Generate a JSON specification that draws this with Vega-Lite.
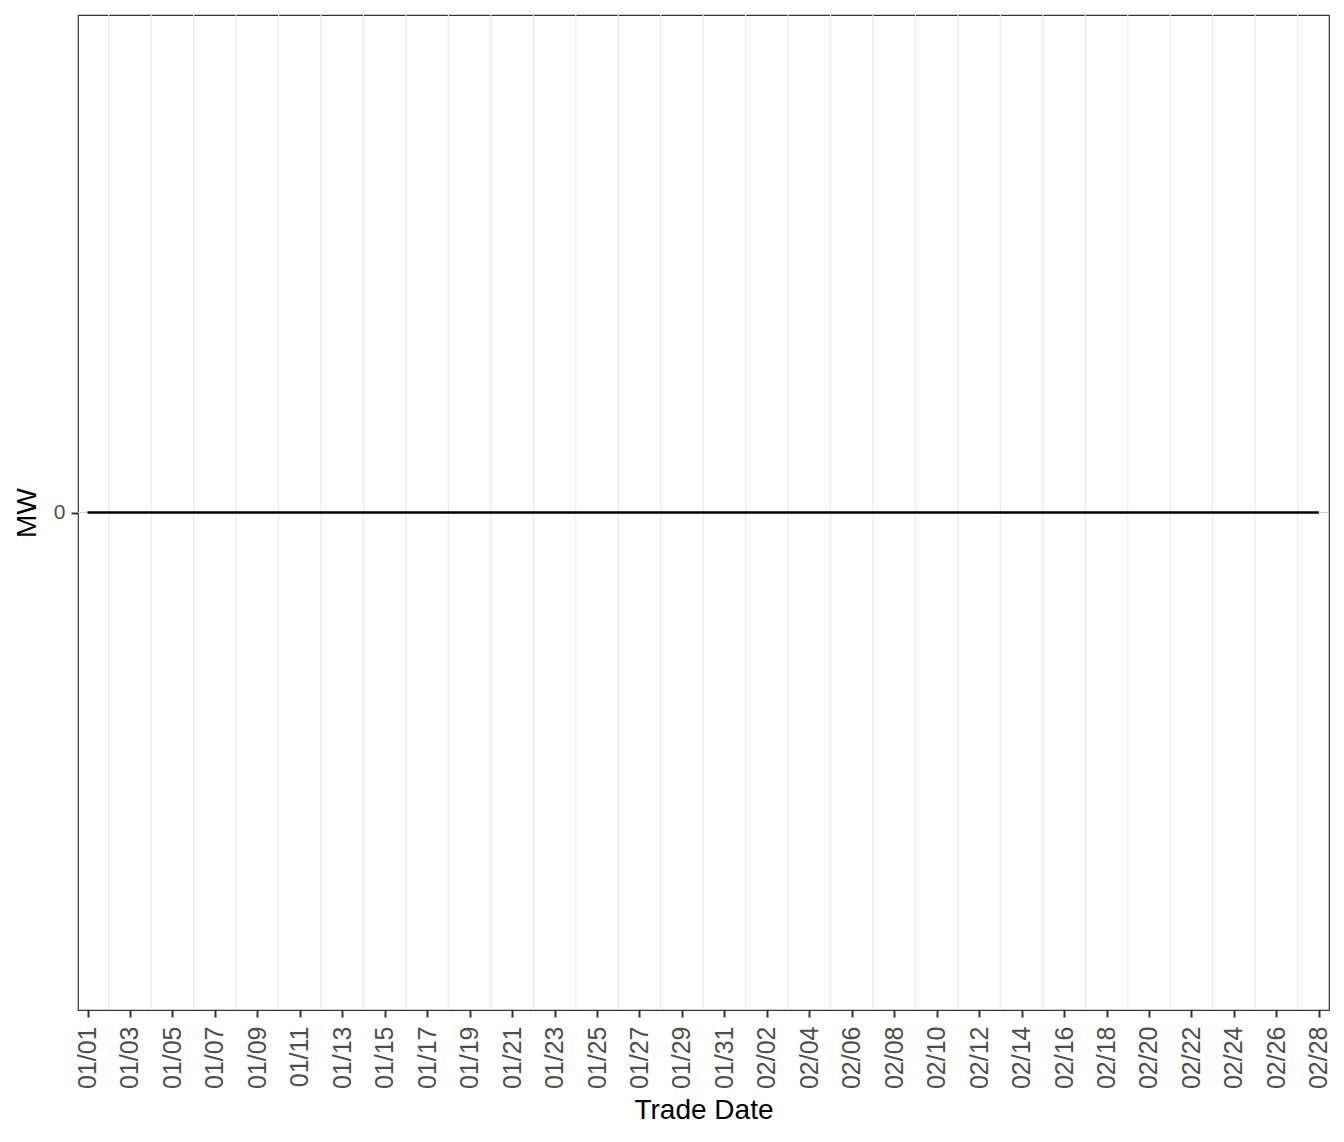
{
  "$schema": "https://vega.github.io/schema/vega-lite/v6.json",
  "width": 1251,
  "height": 995,
  "autosize": "none",
  "padding": {"left": 78, "top": 15, "right": 15, "bottom": 132},
  "background": "white",
  "config": {
    "font": "Liberation Sans",
    "view": {"stroke": "#333333", "strokeWidth": 1.2},
    "axis": {
      "domain": false,
      "grid": false,
      "tickColor": "#333333",
      "tickWidth": 2,
      "tickSize": 7,
      "labelColor": "#4D4D4D",
      "titleColor": "#000000",
      "titleFontWeight": "normal",
      "titleFontSize": 28
    }
  },
  "datasets": {
    "gridDays": [
      {"date": "2023-01-02"}, {"date": "2023-01-04"}, {"date": "2023-01-06"}, {"date": "2023-01-08"},
      {"date": "2023-01-10"}, {"date": "2023-01-12"}, {"date": "2023-01-14"}, {"date": "2023-01-16"},
      {"date": "2023-01-18"}, {"date": "2023-01-20"}, {"date": "2023-01-22"}, {"date": "2023-01-24"},
      {"date": "2023-01-26"}, {"date": "2023-01-28"}, {"date": "2023-01-30"}, {"date": "2023-02-01"},
      {"date": "2023-02-03"}, {"date": "2023-02-05"}, {"date": "2023-02-07"}, {"date": "2023-02-09"},
      {"date": "2023-02-11"}, {"date": "2023-02-13"}, {"date": "2023-02-15"}, {"date": "2023-02-17"},
      {"date": "2023-02-19"}, {"date": "2023-02-21"}, {"date": "2023-02-23"}, {"date": "2023-02-25"},
      {"date": "2023-02-27"}
    ],
    "daily": [
      {"date": "2023-01-01", "MW": 0}, {"date": "2023-01-02", "MW": 0}, {"date": "2023-01-03", "MW": 0},
      {"date": "2023-01-04", "MW": 0}, {"date": "2023-01-05", "MW": 0}, {"date": "2023-01-06", "MW": 0},
      {"date": "2023-01-07", "MW": 0}, {"date": "2023-01-08", "MW": 0}, {"date": "2023-01-09", "MW": 0},
      {"date": "2023-01-10", "MW": 0}, {"date": "2023-01-11", "MW": 0}, {"date": "2023-01-12", "MW": 0},
      {"date": "2023-01-13", "MW": 0}, {"date": "2023-01-14", "MW": 0}, {"date": "2023-01-15", "MW": 0},
      {"date": "2023-01-16", "MW": 0}, {"date": "2023-01-17", "MW": 0}, {"date": "2023-01-18", "MW": 0},
      {"date": "2023-01-19", "MW": 0}, {"date": "2023-01-20", "MW": 0}, {"date": "2023-01-21", "MW": 0},
      {"date": "2023-01-22", "MW": 0}, {"date": "2023-01-23", "MW": 0}, {"date": "2023-01-24", "MW": 0},
      {"date": "2023-01-25", "MW": 0}, {"date": "2023-01-26", "MW": 0}, {"date": "2023-01-27", "MW": 0},
      {"date": "2023-01-28", "MW": 0}, {"date": "2023-01-29", "MW": 0}, {"date": "2023-01-30", "MW": 0},
      {"date": "2023-01-31", "MW": 0}, {"date": "2023-02-01", "MW": 0}, {"date": "2023-02-02", "MW": 0},
      {"date": "2023-02-03", "MW": 0}, {"date": "2023-02-04", "MW": 0}, {"date": "2023-02-05", "MW": 0},
      {"date": "2023-02-06", "MW": 0}, {"date": "2023-02-07", "MW": 0}, {"date": "2023-02-08", "MW": 0},
      {"date": "2023-02-09", "MW": 0}, {"date": "2023-02-10", "MW": 0}, {"date": "2023-02-11", "MW": 0},
      {"date": "2023-02-12", "MW": 0}, {"date": "2023-02-13", "MW": 0}, {"date": "2023-02-14", "MW": 0},
      {"date": "2023-02-15", "MW": 0}, {"date": "2023-02-16", "MW": 0}, {"date": "2023-02-17", "MW": 0},
      {"date": "2023-02-18", "MW": 0}, {"date": "2023-02-19", "MW": 0}, {"date": "2023-02-20", "MW": 0},
      {"date": "2023-02-21", "MW": 0}, {"date": "2023-02-22", "MW": 0}, {"date": "2023-02-23", "MW": 0},
      {"date": "2023-02-24", "MW": 0}, {"date": "2023-02-25", "MW": 0}, {"date": "2023-02-26", "MW": 0},
      {"date": "2023-02-27", "MW": 0}, {"date": "2023-02-28", "MW": 0}
    ]
  },
  "layer": [
    {
      "data": {"name": "gridDays"},
      "mark": {"type": "rule", "color": "#EBEBEB", "strokeWidth": 1.2},
      "encoding": {
        "x": {
          "field": "date",
          "type": "temporal",
          "title": "Trade Date",
          "scale": {"type": "utc", "domain": [1672492500000, 1677583800000]},
          "axis": {
            "format": "%m/%d",
            "labelAngle": 270,
            "labelFontSize": 25,
            "labelPadding": 9,
            "titlePadding": 8,
            "values": [
              1672531200000, 1672704000000, 1672876800000, 1673049600000, 1673222400000,
              1673395200000, 1673568000000, 1673740800000, 1673913600000, 1674086400000,
              1674259200000, 1674432000000, 1674604800000, 1674777600000, 1674950400000,
              1675123200000, 1675296000000, 1675468800000, 1675641600000, 1675814400000,
              1675987200000, 1676160000000, 1676332800000, 1676505600000, 1676678400000,
              1676851200000, 1677024000000, 1677196800000, 1677369600000, 1677542400000
            ]
          }
        }
      }
    },
    {
      "data": {"values": [{"MW": 0}]},
      "mark": {"type": "rule", "color": "#D0D0D0", "strokeWidth": 1.2},
      "encoding": {
        "y": {
          "field": "MW",
          "type": "quantitative",
          "title": "MW",
          "scale": {"domain": [-1, 1], "nice": false, "zero": false},
          "axis": {"values": [0], "format": "d", "labelFontSize": 21, "labelPadding": 6, "titlePadding": 12}
        }
      }
    },
    {
      "data": {"name": "daily"},
      "mark": {"type": "line", "color": "#000000", "strokeWidth": 2.6},
      "encoding": {
        "x": {"field": "date", "type": "temporal", "title": "Trade Date"},
        "y": {
          "field": "MW",
          "type": "quantitative",
          "title": "MW",
          "axis": {"values": [0], "format": "d", "labelFontSize": 21, "labelPadding": 6, "titlePadding": 12}
        }
      }
    }
  ]
}
